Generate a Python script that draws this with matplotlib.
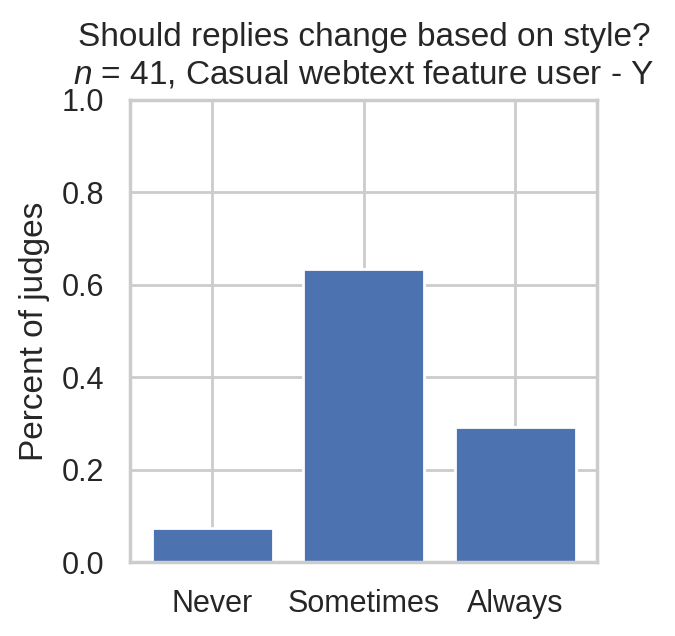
import matplotlib
matplotlib.use("Agg")
import matplotlib.pyplot as plt
import seaborn as sns

# answer counts out of n = 41 judges
categories = ["Never", "Sometimes", "Always"]
counts = [3, 26, 12]
n_judges = 41
shares = [c / n_judges for c in counts]

sns.set_theme(style="whitegrid")
plt.rcParams["font.family"] = ["Liberation Sans", "DejaVu Sans"]
plt.rcParams["mathtext.fontset"] = "custom"
plt.rcParams["mathtext.it"] = "Liberation Sans:italic"

fig, ax = plt.subplots(figsize=(3.375, 3.18), dpi=200)
ax.bar(categories, shares, color="#4c72b0")
ax.set_ylim(0, 1.0)
ax.set_ylabel("Percent of judges")
ax.set_title("Should replies change based on style?\n$n$ = %d, Casual webtext feature user - Y" % n_judges)

fig.subplots_adjust(left=0.193, right=0.885, top=0.843, bottom=0.116)
fig.savefig("out.png", dpi=200)
